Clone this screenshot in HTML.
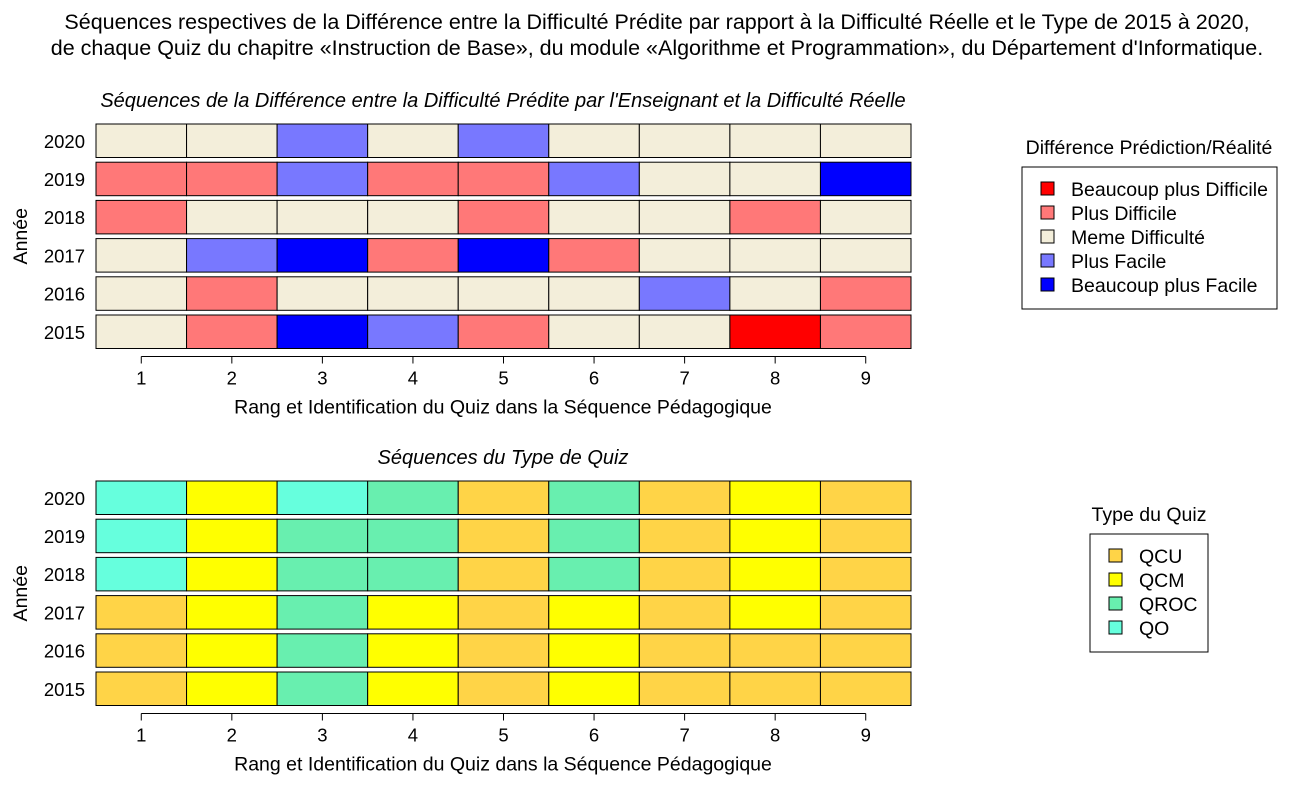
<!DOCTYPE html>
<html><head><meta charset="utf-8"><style>body{margin:0;background:#fff}svg{display:block;font-family:"Liberation Sans",sans-serif}</style></head>
<body>
<svg id="c" width="1300" height="800" xmlns="http://www.w3.org/2000/svg">
<text x="657" y="29" font-size="21.5" text-anchor="middle">Séquences respectives de la Différence entre la Difficulté Prédite par rapport à la Difficulté Réelle et le Type de 2015 à 2020,</text>
<text x="657" y="55" font-size="21.5" text-anchor="middle">de chaque Quiz du chapitre «Instruction de Base», du module «Algorithme et Programmation», du Département d'Informatique.</text>
</svg>
<script>
const years=["2020","2019","2018","2017","2016","2015"];
const quizzes=[1,2,3,4,5,6,7,8,9];
const diffCats=["Beaucoup plus Difficile","Plus Difficile","Meme Difficulté","Plus Facile","Beaucoup plus Facile"];
const diffColors=["#FF0000","#FF7878","#F3EEDA","#7878FF","#0000FF"];
const diffData=[
[2,2,3,2,3,2,2,2,2],
[1,1,3,1,1,3,2,2,4],
[1,2,2,2,1,2,2,1,2],
[2,3,4,1,4,1,2,2,2],
[2,1,2,2,2,2,3,2,1],
[2,1,4,3,1,2,2,0,1]];
const typeCats=["QCU","QCM","QROC","QO"];
const typeColors=["#FFD447","#FFFF00","#68EFAF","#66FFDD"];
const typeData=[
[3,1,3,2,0,2,0,1,0],
[3,1,2,2,0,2,0,1,0],
[3,1,2,2,0,2,0,1,0],
[0,1,2,1,0,1,0,1,0],
[0,1,2,1,0,1,0,0,0],
[0,1,2,1,0,1,0,0,0]];
const svg=document.getElementById('c');const NS="http://www.w3.org/2000/svg";
function mk(t,a,txt){const e=document.createElementNS(NS,t);for(const k in a)e.setAttribute(k,a[k]);if(txt!==undefined)e.textContent=txt;svg.appendChild(e);return e;}
const x0=96,x1=911,cw=(x1-x0)/9;
const xs=q=>x0+(q-0.5)*cw;
function panel(top,title,data,colors,key){
  const pitch=38.2,h=33.5;
  const ys=i=>top+i*pitch;
  let t=mk('text',{x:503,y:top-17,'font-size':20,'font-style':'italic','text-anchor':'middle'},title);
  
  
  years.forEach((y,i)=>{
    quizzes.forEach((q,j)=>{
      const r=mk('rect',{x:x0+j*cw,y:ys(i),width:cw,height:h,fill:colors[data[i][j]],stroke:'#000','stroke-width':1});
      
      
    });
    const l=mk('text',{x:85,y:ys(i)+h/2+7,'font-size':18.5,'text-anchor':'end'},y);
    
    
  });
  const yb=ys(5)+h+8;
  const ax=mk('line',{x1:xs(1),x2:xs(9),y1:yb,y2:yb,stroke:'#000'});
  
  
  quizzes.forEach(q=>{
    mk('line',{x1:xs(q),x2:xs(q),y1:yb,y2:yb+7,stroke:'#000'});
    const tl=mk('text',{x:xs(q),y:yb+28,'font-size':18.5,'text-anchor':'middle'},q);
    
    
  });
  const xt=mk('text',{x:503,y:yb+57,'font-size':19.5,'text-anchor':'middle'},"Rang et Identification du Quiz dans la Séquence Pédagogique");
  
  
  const cy=(top+ys(5)+h)/2;
  const yt=mk('text',{x:0,y:0,'font-size':19.5,'text-anchor':'middle',transform:`translate(27,${cy}) rotate(-90)`},"Année");
  
  
}
panel(124,"Séquences de la Différence entre la Difficulté Prédite par l'Enseignant et la Difficulté Réelle",diffData,diffColors,'diff');
panel(481,"Séquences du Type de Quiz",typeData,typeColors,'type');
function legend(x,y,w,title,cats,colors,key,tx,ty){
  const tt=mk('text',{x:tx,y:ty,'font-size':19.5,'text-anchor':'middle'},title);
  
  
  const b=mk('rect',{x:x,y:y,width:w,height:cats.length*24+22,fill:'#fff',stroke:'#000'});
  
  
  cats.forEach((c,i)=>{
    const cy=y+22+i*24;
    const s=mk('rect',{x:x+19,y:cy-7,width:13,height:13,fill:colors[i],stroke:'#000'});
    
    
    const l=mk('text',{x:x+49,y:cy+7,'font-size':19.5},c);
    
    
  });
}
legend(1022,167,255,"Différence Prédiction/Réalité",diffCats,diffColors,'diff',1149,154);
legend(1090,534,118,"Type du Quiz",typeCats,typeColors,'type',1149,521);
</script>
</body></html>
